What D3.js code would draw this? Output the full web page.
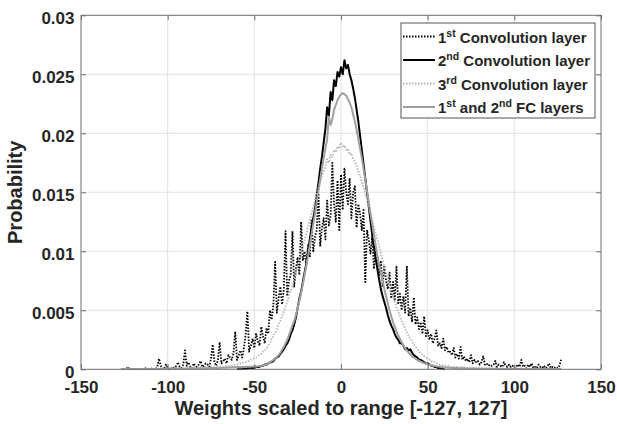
<!DOCTYPE html>
<html>
<head>
<meta charset="utf-8">
<script src="https://cdn.jsdelivr.net/npm/d3@7"></script>
<style>
body{margin:0;background:#fff;}
text{font-family:"Liberation Sans",Arial,Helvetica,sans-serif;font-weight:bold;fill:#262626;}
</style>
</head>
<body>
<svg id="chart" width="617" height="424"></svg>
<script>
// histograms of the weights, one bin per integer level
// probabilities, in units of 1e-4
var conv1Start = -127;
var conv1 = [
  0,0,0,0,2,0,0,0,0,0,
  0,0,0,0,1,0,0,0,1,0,
  0,2,9,3,1,0,4,1,0,1,
  2,1,3,6,2,1,4,16,3,6,
  2,1,5,3,2,4,7,2,3,5,
  4,2,9,21,6,3,8,23,5,7,
  9,5,12,10,8,14,32,8,12,16,
  10,18,30,49,15,20,26,18,30,24,
  20,36,28,22,35,30,50,42,55,91,
  48,60,70,55,68,117,62,75,80,117,
  70,85,95,80,125,92,100,88,106,95,
  126,100,112,118,149,104,120,128,110,143,
  122,130,175,140,125,160,118,165,135,170,
  150,140,162,128,150,155,120,140,132,118,
  135,74,118,110,98,112,85,102,95,80,
  92,70,88,75,68,82,60,74,58,87,
  55,64,50,62,48,87,45,52,40,61,
  38,44,34,40,30,45,28,33,25,30,
  22,26,33,20,22,18,26,16,19,14,
  15,12,18,10,13,9,19,8,11,7,
  9,6,12,5,8,6,7,4,6,11,
  4,5,3,4,3,4,7,2,4,3,
  2,6,3,2,4,2,3,1,2,4,
  2,8,2,3,1,4,2,5,1,2,
  1,4,2,1,3,1,2,5,1,2,
  1,2,1,3,8
];

var conv2Start = -60;
var conv2 = [
  0,0,0,0,1,0,1,1,1,1,
  1,2,2,2,3,3,4,4,5,6,
  6,7,9,10,11,13,15,17,20,22,
  25,30,33,38,44,52,60,66,74,82,
  90,100,110,120,128,136,148,158,170,180,
  192,204,222,215,235,228,245,240,252,248,
  256,250,262,255,258,250,245,238,230,220,
  210,198,186,174,162,150,138,126,114,104,
  94,85,76,68,62,57,52,46,41,37,
  34,30,27,25,22,22,20,17,18,16,
  17,14,12,11,10,8,8,7,6,5,
  5,4,3,3,2,2,1,1,1,0,
  0
];

var conv3Start = -110;
var conv3 = [
  0,1,0,0,1,0,1,0,1,1,
  1,0,1,1,1,1,1,1,1,1,
  1,1,1,2,1,2,2,2,2,2,
  1,1,2,1,2,2,2,2,2,2,
  2,2,2,3,3,3,3,3,4,4,
  4,4,5,5,6,6,7,7,8,9,
  9,10,11,12,13,15,16,18,20,22,
  26,28,31,34,38,41,45,49,53,57,
  62,66,71,76,82,87,93,98,104,110,
  115,121,127,132,138,144,149,154,159,164,
  168,172,178,175,182,180,186,184,189,187,
  192,188,190,186,187,182,183,178,176,172,
  168,164,159,154,149,144,138,132,127,121,
  115,110,104,98,93,87,82,76,71,66,
  62,57,53,49,45,41,38,35,31,28,
  26,24,21,19,17,15,14,12,11,10,
  9,8,7,6,6,5,5,4,4,3,
  3,3,3,2,2,2,2,2,2,1,
  2,1,2,1,1,1,1,1,1,1,
  1,1,1,1,0,1,1,0,1,1,
  1,0,1,0,1,0,1,0,0,1,
  0,1,0,0,1,0,0,1,0,0,
  0
];

var fcStart = -127;
var fc = [
  .3,.3,.3,.3,.3,.3,.3,.3,.3,.3,
  .3,.3,.3,.3,.3,.3,.3,.3,.3,.3,
  .3,.3,.3,.3,.4,.3,.4,.4,.4,.4,
  .4,.4,.4,.5,.5,.5,.5,.5,.6,.6,
  .6,.6,.7,.7,.7,.8,.8,.8,.9,.9,
  1,1,1,1.1,1.1,1.2,1.2,1.3,1.3,1.4,
  1.4,1.5,1.5,1.6,1.7,1.7,1.8,1.9,2,2,
  2,2,2.1,2.1,2.2,2.2,2.3,2.3,2.4,2.5,
  2.6,2.9,3.3,3.8,4.4,5.2,5.9,6.9,8,9.2,
  10.5,12,14,16.5,19,22,25,29,33,37.5,
  41,46,52,58,65,72,80,88,96,105,
  114,123,132,142,151,161,170,179,187,195,
  214,207,212,220,224,228,231,233,234,233,
  232,229,226,222,216,210,203,195,187,179,
  170,161,151,142,132,123,114,105,96,88,
  82,75,68,62,56,50,45,40,36,32,
  29,26,23,20,18,16,14,12.5,11,10,
  9,8,7.2,6.5,5.8,5.2,4.7,4.2,3.8,3.4,
  3.1,2.8,2.5,2.3,2.1,1.9,1.7,1.6,1.5,1.4,
  1.3,1.2,1.1,1,1,.9,.9,.8,.8,.7,
  .7,.7,.6,.6,.6,.5,.5,.5,.5,.5,
  .4,.4,.4,.4,.4,.4,.4,.3,.3,.3,
  .3,.3,.3,.3,.3,.3,.3,.3,.3,.3,
  .3,.3,.3,.3,.3,.3,.3,.3,.3,.3,
  .3,.3,.3,.3,.3,.3,.3,.3,.3,.3,
  .3,.3,.3,.3,.3
];

var xTicks = [-150, -100, -50, 0, 50, 100, 150];
var xTickLabels = ["-150", "-100", "-50", "0", "50", "100", "150"];
var yTicks = [0, 0.005, 0.01, 0.015, 0.02, 0.025, 0.03];
var yTickLabels = ["0", "0.005", "0.01", "0.015", "0.02", "0.025", "0.03"];

var legendLabels = [
  [["1"], ["st", 1], [" Convolution layer"]],
  [["2"], ["nd", 1], [" Convolution layer"]],
  [["3"], ["rd", 1], [" Convolution layer"]],
  [["1"], ["st", 1], [" and 2"], ["nd", 1], [" FC layers"]]
];

var series = [
  {start: conv1Start, values: conv1, color: "#000", dash: "1.5,1.5", width: 1.8},
  {start: conv2Start, values: conv2, color: "#000", dash: null, width: 2},
  {start: conv3Start, values: conv3, color: "#b5b5b5", dash: "1.5,1.5", width: 1.8},
  {start: fcStart, values: fc, color: "#a0a0a0", dash: null, width: 2}
];

var svg = d3.select("#chart");
// plot box (window.top is reserved, so use other names)
var pLeft = 81, pRight = 601, pTop = 15.3, pBottom = 369.3;

var x = d3.scaleLinear().domain([-150, 150]).range([pLeft, pRight]);
var y = d3.scaleLinear().domain([0, 0.03]).range([pBottom, pTop]);

// grid
var grid = svg.append("g").attr("stroke", "#e2e2e2").attr("stroke-width", 1);
grid.selectAll(".gx").data(xTicks.slice(1, -1)).enter().append("line")
    .attr("x1", d => x(d)).attr("x2", d => x(d))
    .attr("y1", pTop).attr("y2", pBottom);
grid.selectAll(".gy").data(yTicks.slice(1, -1)).enter().append("line")
    .attr("x1", pLeft).attr("x2", pRight)
    .attr("y1", d => y(d)).attr("y2", d => y(d));

// curves
svg.append("clipPath").attr("id", "plotclip")
   .append("rect").attr("x", pLeft).attr("y", pTop - 2)
   .attr("width", pRight - pLeft).attr("height", pBottom - pTop + 3);

var plot = svg.append("g").attr("clip-path", "url(#plotclip)");
series.forEach(function(s){
    var line = d3.line()
        .x((d, i) => x(s.start + i))
        .y(d => y(d * 1e-4));
    plot.append("path")
        .datum(s.values)
        .attr("d", line)
        .attr("fill", "none")
        .attr("stroke", s.color)
        .attr("stroke-width", s.width)
        .attr("stroke-dasharray", s.dash)
        .attr("stroke-linejoin", "round");
});

// axes (ticks inside, box on)
function styleAxis(g){
    g.select(".domain").remove();
    g.selectAll(".tick line").attr("stroke", "#6e6e6e");
    g.selectAll("text").style("font-size", "17px").attr("fill", "#262626");
}
svg.append("g")
    .attr("transform", "translate(0," + pBottom + ")")
    .call(d3.axisBottom(x).tickValues(xTicks).tickFormat((d, i) => xTickLabels[i])
        .tickSizeInner(-5).tickSizeOuter(0).tickPadding(11.5))
    .call(styleAxis);
svg.append("g")
    .attr("transform", "translate(0," + pTop + ")")
    .call(d3.axisTop(x).tickValues(xTicks).tickFormat("").tickSizeInner(-5).tickSizeOuter(0))
    .call(styleAxis);
svg.append("g")
    .attr("transform", "translate(" + pLeft + ",0)")
    .call(d3.axisLeft(y).tickValues(yTicks).tickFormat((d, i) => yTickLabels[i])
        .tickSizeInner(-5).tickSizeOuter(0).tickPadding(6.5))
    .call(styleAxis)
    .selectAll("text").attr("dy", "0.5em");
svg.append("g")
    .attr("transform", "translate(" + pRight + ",0)")
    .call(d3.axisRight(y).tickValues(yTicks).tickFormat("").tickSizeInner(-5).tickSizeOuter(0))
    .call(styleAxis);

svg.append("rect")
    .attr("x", pLeft).attr("y", pTop)
    .attr("width", pRight - pLeft).attr("height", pBottom - pTop)
    .attr("fill", "none").attr("stroke", "#6e6e6e").attr("stroke-width", 1);

// axis titles
svg.append("text")
    .attr("x", (pLeft + pRight) / 2).attr("y", 415)
    .attr("text-anchor", "middle")
    .style("font-size", "20px")
    .text("Weights scaled to range [-127, 127]");
svg.append("text")
    .attr("transform", "translate(22," + (pTop + pBottom) / 2 + ") rotate(-90)")
    .attr("text-anchor", "middle")
    .style("font-size", "20px")
    .text("Probability");

// legend
var lg = svg.append("g");
lg.append("rect")
    .attr("x", 401).attr("y", 23).attr("width", 194).attr("height", 95)
    .attr("fill", "#fff").attr("stroke", "#555").attr("stroke-width", 1);
legendLabels.forEach(function(parts, i){
    var by = 42.5 + i * 23.5;
    var s = series[i];
    lg.append("line")
        .attr("x1", 403).attr("x2", 435)
        .attr("y1", by - 6).attr("y2", by - 6)
        .attr("stroke", s.color).attr("stroke-width", s.width)
        .attr("stroke-dasharray", s.dash);
    var t = lg.append("text").attr("x", 438).attr("y", by).style("font-size", "15px");
    var raised = false;
    parts.forEach(function(p){
        var sp = t.append("tspan").text(p[0]);
        if (p[1]) {
            sp.attr("dy", -6).style("font-size", "10.5px");
            raised = true;
        } else if (raised) {
            sp.attr("dy", 6);
            raised = false;
        }
    });
});
</script>
</body>
</html>
